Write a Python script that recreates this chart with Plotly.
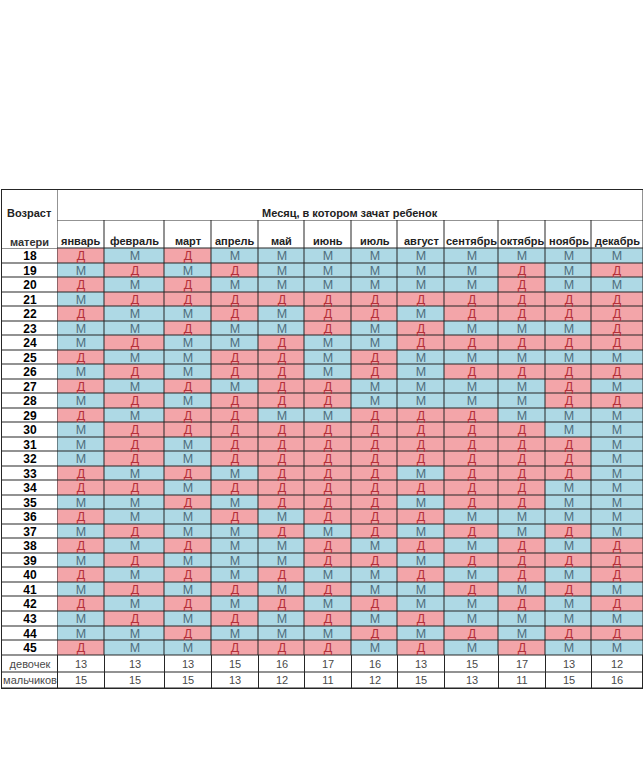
import plotly.graph_objects as go

months = ["январь", "февраль", "март", "апрель", "май", "июнь", "июль",
          "август", "сентябрь", "октябрь", "ноябрь", "декабрь"]
ages = list(range(18, 46))

# rows = mother's age 18..45, columns = month of conception (Д = girl, М = boy)
chart = [
    "ДМДМММММММММ",
    "МДМДМММММДМД",
    "ДМДММММММДММ",
    "МДДДДДДДДДДД",
    "ДММДМДДМДДДД",
    "ММДММДМДМММД",
    "МДММДММДДДДД",
    "ДММДДМДМММММ",
    "МДМДДМДМДДДД",
    "ДМДМДДММММДМ",
    "МДМДДДММММДД",
    "ДМДДММДДДМММ",
    "МДДДДДДДДДММ",
    "МДМДДДДДДДДМ",
    "МДМДДДДДДДДМ",
    "ДМДМДДДМДДДМ",
    "ДДМДДДДДДДММ",
    "ММДМДДДМДДММ",
    "ДММДМДДДММММ",
    "МДММДМДМДМДМ",
    "ДМДММДМДМДМД",
    "МДМММДДМДДДД",
    "ДМДМДММДМДМД",
    "МДМДМДММДМДМ",
    "ДМДМДМДММДМД",
    "МДМДМДМДММММ",
    "ММДМММДМДМДД",
    "ДММДДДМДМДММ",
]

girls = [13, 13, 13, 15, 16, 17, 16, 13, 15, 17, 13, 12]
boys = [15, 15, 15, 13, 12, 11, 12, 15, 13, 11, 15, 16]

title = "Месяц, в котором зачат ребенок"

PINK = "#F3A5A9"
BLUE = "#AED9E5"
RED_TXT = "#B5303A"
BLUE_TXT = "#4F6D7C"
LINE = "#262626"
FONT = "Liberation Sans"
W, H = 643, 770

# layout of the grid (pixels)
col_edges = [2, 57.5, 104.5, 164.5, 211.5, 258.5, 304.5, 351.5, 397.5, 444.5,
             498.5, 545.5, 591.5, 643]
TOP, MID, BODY0, ROWH, BOTTOM = 190, 220.5, 248.5, 14.52, 688
row_edges = [round(BODY0 + i * ROWH - 0.5) + 0.5 for i in range(29)]
foot_edges = [row_edges[-1], round((row_edges[-1] + BOTTOM) / 2) + 0.5, BOTTOM]
month_edges = col_edges[1:]
centers = [(a + b) / 2 for a, b in zip(month_edges[:-1], month_edges[1:])]


def flat(color):
    return [[0, color], [1, color]]


def cells(x, y, z, text, fill, tcolor, size=12, tmpl="%{text}"):
    return go.Heatmap(x=x, y=y, z=z, text=text, texttemplate=tmpl,
                      textfont=dict(family=FONT, size=size, color=tcolor),
                      colorscale=flat(fill), showscale=False, zmin=0, zmax=1,
                      xgap=1, ygap=1, hoverinfo="skip", connectgaps=False)


fig = go.Figure()

for letter, fill, tcolor in [("Д", PINK, RED_TXT), ("М", BLUE, BLUE_TXT)]:
    z = [[1 if c == letter else None for c in row] for row in chart]
    t = [[c if c == letter else "" for c in row] for row in chart]
    fig.add_trace(cells(month_edges, row_edges, z, t, fill, tcolor, size=12.5))

# age column
fig.add_trace(cells(col_edges[:2], row_edges, [[0] for _ in ages],
                    [[str(a)] for a in ages], "white", "black",
                    tmpl="<b>%{text}</b>"))

# totals rows
fig.add_trace(cells(col_edges, foot_edges,
                    [[0] * 13, [0] * 13],
                    [["девочек"] + [str(v) for v in girls],
                     ["мальчиков"] + [str(v) for v in boys]],
                    "white", "#4a4a4a", size=11))

# header cells (text via annotations)
fig.add_trace(cells(col_edges[:2], [TOP, BODY0], [[0]], [[""]], "white", "black"))
fig.add_trace(cells(month_edges[::len(month_edges) - 1], [TOP, MID], [[0]], [[""]],
                    "white", "black"))
fig.add_trace(cells(month_edges, [MID, BODY0], [[0] * 12], [[""] * 12],
                    "white", "black"))

ann = [
    dict(x=(col_edges[0] + col_edges[1]) / 2, y=213, text="<b>Возраст</b>",
         font=dict(size=11, color="#222")),
    dict(x=(col_edges[0] + col_edges[1]) / 2, y=242, text="<b>матери</b>",
         font=dict(size=11, color="#333")),
    dict(x=(month_edges[0] + month_edges[-1]) / 2, y=213, text=f"<b>{title}</b>",
         font=dict(size=11, color="#222")),
]
for m, cx in zip(months, centers):
    ann.append(dict(x=cx, y=241, text=f"<b>{m}</b>", font=dict(size=11, color="#222")))
for a in ann:
    a.update(xref="x", yref="y", showarrow=False, xanchor="center", yanchor="middle")
    a["font"]["family"] = FONT
fig.update_layout(annotations=ann)

axis = dict(showgrid=False, zeroline=False, showticklabels=False, ticks="",
            showline=True, linecolor=LINE, linewidth=1, fixedrange=True)
fig.update_xaxes(range=[col_edges[0], W], mirror=True, **axis)
fig.update_yaxes(range=[BOTTOM, TOP], mirror=False, **axis)
fig.update_layout(width=W, height=H,
                  margin=dict(l=col_edges[0], r=0, t=TOP, b=H - BOTTOM, pad=0),
                  paper_bgcolor="white", plot_bgcolor=LINE)
fig.write_html("out.html", config={"displayModeBar": False},
               post_script="document.body.style.margin='0';")
